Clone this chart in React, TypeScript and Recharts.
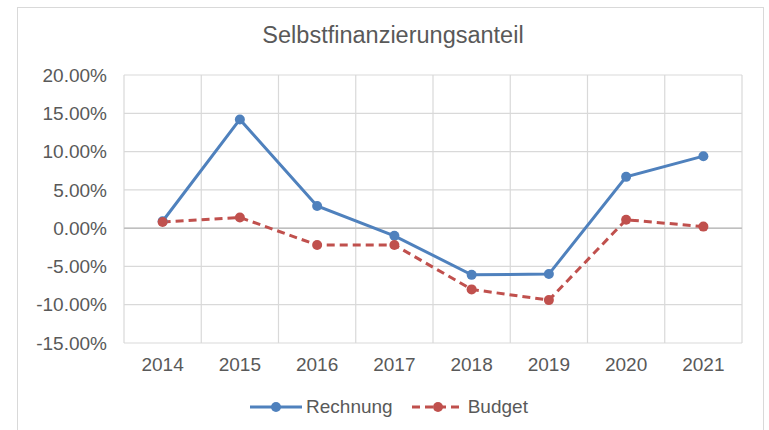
import { LineChart, Line, XAxis, YAxis, CartesianGrid, ReferenceLine, Legend } from 'recharts';

const YEARS = ['2014', '2015', '2016', '2017', '2018', '2019', '2020', '2021'];
const RECHNUNG = [0.9, 14.2, 2.9, -1.0, -6.1, -6.0, 6.7, 9.4];
const BUDGET = [0.8, 1.4, -2.2, -2.2, -8.0, -9.4, 1.1, 0.2];
const Y_TICKS = [-15, -10, -5, 0, 5, 10, 15, 20];

const FONT = '"Liberation Sans", Arial, sans-serif';
const TEXT = '#595959';
const BLUE = '#4F81BD';
const RED = '#C0504D';

const data = YEARS.map((year, i) => ({ year, rechnung: RECHNUNG[i], budget: BUDGET[i] }));

// half a category band, so points sit in the middle of each column like Excel
const BAND_HALF = (769 - 27 - 124) / YEARS.length / 2;

function LegendContent() {
  const item = (color: string, dashed: boolean, label: string) => (
    <span style={{ display: 'inline-flex', alignItems: 'center', marginRight: 6 }}>
      <svg width={54} height={14} style={{ marginRight: 3 }}>
        <line x1={1} y1={7} x2={53} y2={7} stroke={color} strokeWidth={3} strokeDasharray={dashed ? '8 5' : undefined} />
        <circle cx={27} cy={7} r={5} fill={color} />
      </svg>
      <span>{label}</span>
    </span>
  );
  return (
    <div style={{ height: 22, display: 'flex', justifyContent: 'center', alignItems: 'center', fontFamily: FONT, fontSize: 19, color: TEXT, paddingLeft: 14 }}>
      {item(BLUE, false, 'Rechnung')}
      <span style={{ width: 12 }} />
      {item(RED, true, 'Budget')}
    </div>
  );
}

export default function App() {
  return (
    <div style={{ position: 'absolute', left: 0, top: 0, width: 769, height: 430, background: '#fff', overflow: 'hidden' }}>
      <div style={{ position: 'absolute', left: 17, top: 7, width: 745, height: 440, border: '1px solid #D9D9D9' }} />
      <div style={{ position: 'absolute', left: 0, top: 22, width: 786, textAlign: 'center', fontFamily: FONT, fontSize: 23.5, color: TEXT }}>
        Selbstfinanzierungsanteil
      </div>
      <div style={{ position: 'absolute', left: 0, top: 0 }}>
        <LineChart width={769} height={430} data={data} margin={{ top: 75, right: 27, bottom: 35, left: 0 }}>
          <CartesianGrid
            stroke="#D9D9D9"
            strokeWidth={1.2}
            verticalCoordinatesGenerator={({ offset }: any) =>
              YEARS.map((_, i) => offset.left + (i * offset.width) / YEARS.length).concat(offset.left + offset.width)
            }
          />
          <XAxis
            dataKey="year"
            height={30}
            padding={{ left: BAND_HALF, right: BAND_HALF }}
            axisLine={false}
            tickLine={false}
            tickSize={0}
            tickMargin={15}
            interval={0}
            tick={{ fontSize: 19, fill: TEXT, fontFamily: FONT }}
          />
          <YAxis
            width={124}
            domain={[-15, 20]}
            ticks={Y_TICKS}
            axisLine={false}
            tickLine={false}
            tickSize={0}
            tickMargin={17}
            tickFormatter={(v: number) => `${v.toFixed(2)}%`}
            tick={{ fontSize: 19, fill: TEXT, fontFamily: FONT }}
          />
          <ReferenceLine y={0} stroke="#BFBFBF" strokeWidth={1.5} />
          <Legend verticalAlign="bottom" content={<LegendContent />} wrapperStyle={{ bottom: 12, left: 0, width: 769 }} />
          <Line
            isAnimationActive={false}
            type="linear"
            dataKey="rechnung"
            name="Rechnung"
            stroke={BLUE}
            strokeWidth={3}
            dot={{ r: 5, fill: BLUE, stroke: BLUE, strokeWidth: 0 }}
            activeDot={false}
          />
          <Line
            isAnimationActive={false}
            type="linear"
            dataKey="budget"
            name="Budget"
            stroke={RED}
            strokeWidth={3}
            strokeDasharray="8 5"
            dot={{ r: 5, fill: RED, stroke: RED, strokeWidth: 0, strokeDasharray: '' }}
            activeDot={false}
          />
        </LineChart>
      </div>
    </div>
  );
}
